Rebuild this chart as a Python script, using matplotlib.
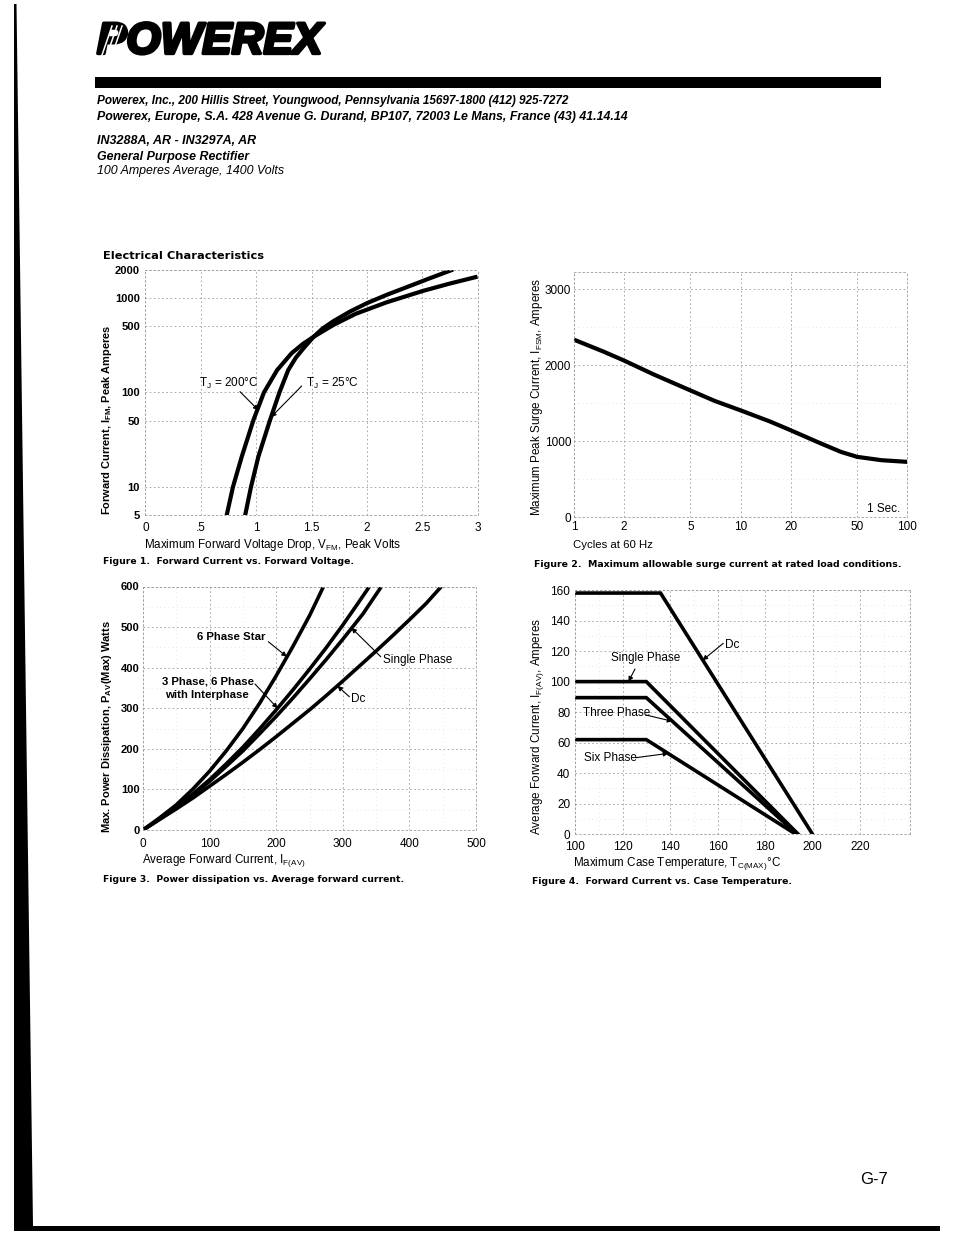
import matplotlib
matplotlib.use('Agg')
import matplotlib.pyplot as plt
import matplotlib.patheffects as pe
from matplotlib import font_manager as fm
from matplotlib.patches import Polygon, Rectangle
from matplotlib.lines import Line2D
from matplotlib.ticker import NullLocator, MultipleLocator

# ---------------- data ----------------
# Figure 1: forward current vs forward voltage (log y)
fig1_v_25c = [0.90, 0.953, 1.02, 1.125, 1.21, 1.29, 1.36, 1.44, 1.52, 1.60, 1.70, 1.85,
              2.00, 2.18, 2.36, 2.56, 2.78]
fig1_i_25c = [5, 10, 21, 51, 100, 173, 235, 305, 389, 475, 570, 720,
              880, 1080, 1300, 1600, 2000]
fig1_v_200c = [0.733, 0.79, 0.87, 0.975, 1.07, 1.19, 1.32, 1.42, 1.52, 1.70, 1.90,
               2.18, 2.51, 2.75, 3.00]
fig1_i_200c = [5, 10, 21, 51, 100, 173, 260, 325, 389, 520, 680,
               900, 1190, 1420, 1680]
fig1_yticks = [5, 10, 50, 100, 500, 1000, 2000]
fig1_xticks = [0, 0.5, 1, 1.5, 2, 2.5, 3]
fig1_xlabels = ['0', '.5', '1', '1.5', '2', '2.5', '3']

# Figure 2: surge current vs cycles (log x)
fig2_cycles = [1, 1.5, 2, 3, 5, 7, 10, 15, 20, 30, 40, 50, 70, 100]
fig2_amps = [2336, 2180, 2061, 1880, 1668, 1530, 1406, 1260, 1144, 975, 860, 795, 751, 729]
fig2_xticks = [1, 2, 5, 10, 20, 50, 100]
fig2_yticks = [0, 1000, 2000, 3000]

# Figure 3: power dissipation vs average current
fig3_dc_i = [0, 25, 50, 75, 100, 125, 150, 175, 200, 225, 250, 275, 300, 325, 350, 375, 400, 425, 448]
fig3_dc_p = [0, 26, 52, 79, 108, 137, 167, 198, 230, 263, 296, 331, 367, 404, 441, 479, 518, 558, 600]
fig3_sp_i = [0, 25, 50, 75, 100, 125, 150, 175, 200, 225, 250, 275, 300, 330, 358]
fig3_sp_p = [0, 27, 55, 86, 120, 157, 195, 237, 280, 325, 372, 420, 470, 532, 600]
fig3_3ph_i = [0, 25, 50, 75, 100, 125, 150, 175, 200, 225, 250, 275, 300, 320, 340]
fig3_3ph_p = [0, 28, 56, 89, 124, 163, 204, 249, 296, 345, 396, 449, 505, 552, 600]
fig3_6ps_i = [0, 25, 50, 75, 100, 125, 150, 175, 200, 225, 250, 260, 271]
fig3_6ps_p = [0, 30, 62, 101, 145, 195, 250, 312, 380, 452, 528, 562, 600]

# Figure 4: forward current vs case temperature
fig4_dc_t = [100, 136, 200]
fig4_dc_i = [158, 158, 0]
fig4_sp_t = [100, 130, 194]
fig4_sp_i = [100, 100, 0]
fig4_3ph_t = [100, 130, 193.5]
fig4_3ph_i = [89.5, 89.5, 0]
fig4_6ph_t = [100, 130, 193]
fig4_6ph_i = [62, 62, 0]

# ---------------- figure setup ----------------
W, H = 954, 1235
plt.rcParams['font.family'] = ['Liberation Sans', 'DejaVu Sans']
plt.rcParams['mathtext.default'] = 'regular'
fig = plt.figure(figsize=(W / 100, H / 100), dpi=100)
fig.patch.set_facecolor('white')
R = fig.canvas.get_renderer()

available = {f.name for f in fm.fontManager.ttflist}
NARROW = 'Liberation Sans Narrow' if 'Liberation Sans Narrow' in available else 'Liberation Sans'


def F(x, y):
    return (x / W, 1 - y / H)


def fit_h(s, x0, x1, yc, size=10, **kw):
    t = fig.text(*F(x0, yc), s, fontsize=size, ha='left', va='center', **kw)
    w = t.get_window_extent(R).width
    t.set_fontsize(size * (x1 - x0) / w)
    return t


def fit_v(s, xc, y0, y1, size=10, **kw):
    t = fig.text(*F(xc, (y0 + y1) / 2), s, fontsize=size, rotation=90,
                 ha='center', va='center', **kw)
    h = t.get_window_extent(R).height
    t.set_fontsize(size * (y1 - y0) / h)
    return t


def txt(s, x, yc, size=8.5, ha='left', **kw):
    return fig.text(*F(x, yc), s, fontsize=size, ha=ha, va='center', **kw)


def axes_px(l, r, t, b):
    return fig.add_axes([l / W, 1 - b / H, (r - l) / W, (b - t) / H])


GRID = dict(color='#9c9c9c', lw=0.6, ls=(0, (2, 3)))
MINOR = dict(color='#cfcfcf', lw=0.5, ls=(0, (1, 5)))


def style(ax, xsize=8.5, ysize=8.5, xpad=5, ypad=4):
    for sp in ax.spines.values():
        sp.set_color('#9c9c9c')
        sp.set_linewidth(0.6)
        sp.set_linestyle((0, (2, 3)))
    ax.tick_params(which='both', length=0)
    ax.tick_params(axis='x', labelsize=xsize, pad=xpad)
    ax.tick_params(axis='y', labelsize=ysize, pad=ypad)
    ax.grid(True, which='major', **GRID)
    ax.set_axisbelow(True)
    ax.patch.set_alpha(0)


def arrow(ax, tip, start_px):
    ax.annotate('', xy=tip, xycoords='data', xytext=F(*start_px),
                textcoords='figure fraction', annotation_clip=False,
                arrowprops=dict(arrowstyle='-|>', color='k', lw=0.8,
                                mutation_scale=7, shrinkA=0, shrinkB=0))


# ---------------- page decorations ----------------
fig.add_artist(Polygon([F(14, 4), F(16.5, 4), F(33, 1226), F(14, 1226)],
                       closed=True, transform=fig.transFigure, color='k', lw=0))
fig.add_artist(Rectangle(F(14, 1231), (940 - 14) / W, 5.5 / H,
                         transform=fig.transFigure, color='k', lw=0))
fig.add_artist(Rectangle(F(95, 88), (881 - 95) / W, 11 / H,
                         transform=fig.transFigure, color='k', lw=0))

# logo
logo = fit_h('POWEREX', 97, 322, 42, size=40, family=NARROW, weight='bold', style='italic')
logo.set_path_effects([pe.withStroke(linewidth=2.4, foreground='k')])
for x in (101, 106, 111):
    fig.add_artist(Line2D([x / W, (x + 11) / W], [1 - 58 / H, 1 - 26 / H],
                          transform=fig.transFigure, color='white', lw=1.1, zorder=10))

# header text
fit_h('Powerex, Inc., 200 Hillis Street, Youngwood, Pennsylvania 15697-1800 (412) 925-7272',
      97, 572, 101, weight='bold', style='italic')
fit_h('Powerex, Europe, S.A. 428 Avenue G. Durand, BP107, 72003 Le Mans, France (43) 41.14.14',
      97, 631, 117, weight='bold', style='italic')
fit_h('IN3288A, AR - IN3297A, AR', 97, 256, 141, weight='bold', style='italic')
fit_h('General Purpose Rectifier', 97, 249, 157, weight='bold', style='italic')
fit_h('100 Amperes Average, 1400 Volts', 97, 285, 171, style='italic')
fig.text(*F(874.5, 1180), 'G-7', fontsize=12, ha='center', va='center')

fit_h('Electrical Characteristics', 103, 263, 256, family='DejaVu Sans', weight='bold')

# ---------------- Figure 1 ----------------
ax1 = axes_px(145.5, 477.5, 269.5, 515.5)
ax1.set_yscale('log')
ax1.set_xlim(0, 3)
ax1.set_ylim(5, 2000)
ax1.plot(fig1_v_25c, fig1_i_25c, color='k', lw=3.0, solid_capstyle='butt', solid_joinstyle='round')
ax1.plot(fig1_v_200c, fig1_i_200c, color='k', lw=3.0, solid_capstyle='butt', solid_joinstyle='round')
ax1.yaxis.set_minor_locator(NullLocator())
ax1.set_yticks(fig1_yticks, [str(v) for v in fig1_yticks], fontweight='bold')
ax1.set_xticks(fig1_xticks, fig1_xlabels)
style(ax1, xsize=8.5, ysize=8, xpad=5, ypad=4)
txt('T$_J$ = 200°C', 199, 383, size=8.5)
txt('T$_J$ = 25°C', 306, 383, size=8.5)
arrow(ax1, (1.02, 65), (240, 391.7))
arrow(ax1, (1.135, 55), (301.7, 386))
fit_v('Forward Current, I$_{FM}$, Peak Amperes', 107.5, 325, 515, weight='bold')
fit_h('Maximum Forward Voltage Drop, V$_{FM}$, Peak Volts', 143.5, 400, 545)
fit_h('Figure 1.  Forward Current vs. Forward Voltage.', 103, 355, 561,
      family='DejaVu Sans', weight='bold')

# ---------------- Figure 2 ----------------
ax2 = axes_px(574, 907.3, 271.7, 517.3)
ax2.set_xscale('log')
ax2.set_xlim(1, 100)
ax2.set_ylim(0, 3230)
ax2.plot(fig2_cycles, fig2_amps, color='k', lw=3.0, solid_capstyle='butt', solid_joinstyle='round')
ax2.xaxis.set_minor_locator(NullLocator())
ax2.set_xticks(fig2_xticks, [str(v) for v in fig2_xticks])
ax2.set_yticks(fig2_yticks, [str(v) for v in fig2_yticks])
ax2.yaxis.set_minor_locator(MultipleLocator(500))
ax2.grid(True, which='minor', axis='y', **MINOR)
style(ax2, xsize=8.5, ysize=8.5, xpad=3, ypad=2)
txt('1 Sec.', 900, 509.5, size=8.5, ha='right')
fit_v('Maximum Peak Surge Current, I$_{FSM}$, Amperes', 537.5, 277, 516)
fit_h('Cycles at 60 Hz', 573, 653, 545)
fit_h('Figure 2.  Maximum allowable surge current at rated load conditions.', 534, 901, 564.5,
      family='DejaVu Sans', weight='bold')

# ---------------- Figure 3 ----------------
ax3 = axes_px(143, 476, 586.5, 830)
ax3.set_xlim(0, 500)
ax3.set_ylim(0, 600)
for xs, ys in ((fig3_6ps_i, fig3_6ps_p), (fig3_3ph_i, fig3_3ph_p),
               (fig3_sp_i, fig3_sp_p), (fig3_dc_i, fig3_dc_p)):
    ax3.plot(xs, ys, color='k', lw=2.6, solid_capstyle='butt', solid_joinstyle='round')
ax3.set_xticks(range(0, 501, 100))
ax3.set_yticks(range(0, 601, 100), [str(v) for v in range(0, 601, 100)], fontweight='bold')
ax3.xaxis.set_minor_locator(MultipleLocator(50))
ax3.yaxis.set_minor_locator(MultipleLocator(50))
ax3.grid(True, which='minor', **MINOR)
style(ax3, xsize=8.5, ysize=8, xpad=6, ypad=2.5)
txt('6 Phase Star', 266, 637.5, size=8.2, ha='right', weight='bold')
txt('3 Phase, 6 Phase', 254, 681, size=8.2, ha='right', weight='bold')
txt('with Interphase', 249, 695, size=8.2, ha='right', weight='bold')
txt('Single Phase', 383, 660.5, size=8.5)
txt('Dc', 351, 699, size=8.5)
arrow(ax3, (216, 427), (268.3, 641.7))
arrow(ax3, (202, 300), (255, 684))
arrow(ax3, (313, 498), (380.7, 656.7))
arrow(ax3, (292, 355), (349.3, 696.7))
fit_v('Max. Power Dissipation, P$_{AV}$(Max) Watts', 107, 620, 833, weight='bold')
fit_h('Average Forward Current, I$_{F(AV)}$', 142, 305, 860.5)
fit_h('Figure 3.  Power dissipation vs. Average forward current.', 103, 402, 880,
      family='DejaVu Sans', weight='bold')

# ---------------- Figure 4 ----------------
ax4 = axes_px(575, 910, 590, 834.3)
ax4.set_xlim(100, 241)
ax4.set_ylim(0, 160)
for xs, ys in ((fig4_dc_t, fig4_dc_i), (fig4_sp_t, fig4_sp_i),
               (fig4_3ph_t, fig4_3ph_i), (fig4_6ph_t, fig4_6ph_i)):
    ax4.plot(xs, ys, color='k', lw=2.6, solid_joinstyle='miter')
ax4.set_xticks(range(100, 221, 20))
ax4.set_yticks(range(0, 161, 20))
ax4.xaxis.set_minor_locator(MultipleLocator(10))
ax4.yaxis.set_minor_locator(MultipleLocator(10))
ax4.grid(True, which='minor', **MINOR)
style(ax4, xsize=8.5, ysize=8.5, xpad=5, ypad=3.5)
txt('Dc', 725, 645, size=8.5)
txt('Single Phase', 611, 657.5, size=8.5)
txt('Three Phase', 583, 713.5, size=8.5)
txt('Six Phase', 584.5, 758, size=8.5)
arrow(ax4, (153.7, 114), (723.3, 643.3))
arrow(ax4, (122.5, 100), (635, 669))
arrow(ax4, (141, 74), (646, 715))
arrow(ax4, (139.3, 53), (635.7, 757.7))
fit_v('Average Forward Current, I$_{F(AV)}$, Amperes', 537.5, 618, 834)
fit_h('Maximum Case Temperature, T$_{C(MAX)}$°C', 573, 780, 863)
fit_h('Figure 4.  Forward Current vs. Case Temperature.', 532, 792, 882,
      family='DejaVu Sans', weight='bold')

fig.savefig('out.png', dpi=100, facecolor='white')
